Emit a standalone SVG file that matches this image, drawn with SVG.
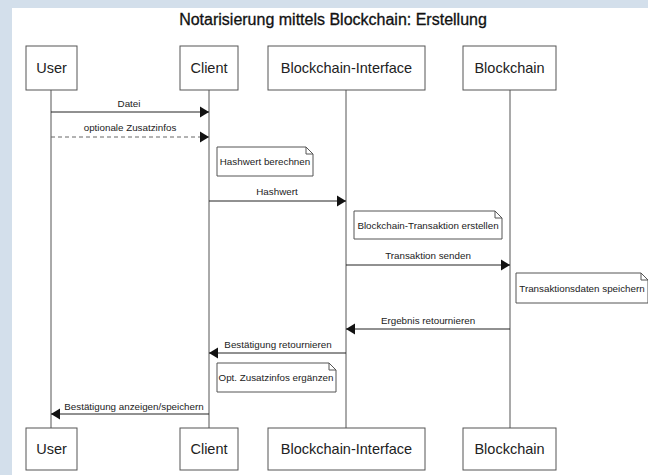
<svg xmlns="http://www.w3.org/2000/svg" width="648" height="475" viewBox="0 0 648 475">
<style>
.box{fill:#fff;stroke:#555;stroke-width:1}
.life{stroke:#555;stroke-width:1;fill:none}
.msg{stroke:#222;stroke-width:1;fill:none}
.dash{stroke-dasharray:4 3;stroke:#666}
.note{fill:#fff;stroke:#555;stroke-width:1}
.nt{font-family:"Liberation Sans",Arial,sans-serif;font-size:14.5px;fill:#222;text-anchor:middle}
.ml{font-family:"Liberation Sans",Arial,sans-serif;font-size:9.8px;fill:#222;text-anchor:middle}
.title{font-family:"Liberation Sans",Arial,sans-serif;font-size:16px;fill:#111;stroke:#111;stroke-width:0.3;text-anchor:middle}
</style>
<defs>
<marker id="ah" viewBox="0 0 10 12" refX="10" refY="6" markerWidth="9" markerHeight="12" markerUnits="userSpaceOnUse" orient="auto">
<path d="M0,0 L10,6 L0,12 Z" fill="#111"/>
</marker>
</defs>
<rect x="0" y="0" width="648" height="475" fill="#d3dfeb"/>
<rect x="12" y="8" width="636" height="467" fill="#fff"/>
<text class="title" x="333" y="25">Notarisierung mittels Blockchain: Erstellung</text>
<g id="lifelines">
<line class="life" x1="51" y1="90" x2="51" y2="428"/>
<line class="life" x1="209" y1="90" x2="209" y2="428"/>
<line class="life" x1="346" y1="90" x2="346" y2="428"/>
<line class="life" x1="510" y1="90" x2="510" y2="428"/>
</g>
<g id="user-top"><rect class="box" x="26" y="46" width="51" height="44"/><text class="nt" x="51.5" y="73">User</text></g>
<g id="client-top"><rect class="box" x="180" y="46" width="58" height="44"/><text class="nt" x="209" y="73">Client</text></g>
<g id="bi-top"><rect class="box" x="268" y="46" width="157" height="44"/><text class="nt" x="346.5" y="73">Blockchain-Interface</text></g>
<g id="bc-top"><rect class="box" x="463" y="46" width="93" height="44"/><text class="nt" x="509.5" y="73">Blockchain</text></g>
<g id="user-bottom"><rect class="box" x="26" y="428" width="51" height="42"/><text class="nt" x="51.5" y="454">User</text></g>
<g id="client-bottom"><rect class="box" x="180" y="428" width="58" height="42"/><text class="nt" x="209" y="454">Client</text></g>
<g id="bi-bottom"><rect class="box" x="268" y="428" width="157" height="42"/><text class="nt" x="346.5" y="454">Blockchain-Interface</text></g>
<g id="bc-bottom"><rect class="box" x="463" y="428" width="93" height="42"/><text class="nt" x="509.5" y="454">Blockchain</text></g>
<g id="connectors">
<line class="msg" x1="51" y1="112" x2="209" y2="112" marker-end="url(#ah)"/>
<line class="msg dash" x1="51" y1="137" x2="209" y2="137" marker-end="url(#ah)"/>
<line class="msg" x1="209" y1="201" x2="346" y2="201" marker-end="url(#ah)"/>
<line class="msg" x1="346" y1="265" x2="510" y2="265" marker-end="url(#ah)"/>
<line class="msg" x1="510" y1="329" x2="346" y2="329" marker-end="url(#ah)"/>
<line class="msg" x1="346" y1="353" x2="209" y2="353" marker-end="url(#ah)"/>
<line class="msg" x1="209" y1="414" x2="51" y2="414" marker-end="url(#ah)"/>
<text class="ml" x="129" y="107">Datei</text>
<text class="ml" x="130" y="131">optionale Zusatzinfos</text>
<text class="ml" x="277" y="195">Hashwert</text>
<text class="ml" x="428" y="259">Transaktion senden</text>
<text class="ml" x="428" y="324">Ergebnis retournieren</text>
<text class="ml" x="278" y="348">Bestätigung retournieren</text>
<text class="ml" x="134" y="410">Bestätigung anzeigen/speichern</text>
</g>
<g id="note-hash"><path class="note" d="M217,147 H306 L313,154 V176 H217 Z M306,147 V154 H313"/><text class="ml" x="265" y="165">Hashwert berechnen</text></g>
<g id="note-tx"><path class="note" d="M354,211 H495 L502,218 V239 H354 Z M495,211 V218 H502"/><text class="ml" x="428" y="229">Blockchain-Transaktion erstellen</text></g>
<g id="note-store"><path class="note" d="M516,273 H641 L648,280 V303 H516 Z M641,273 V280 H648"/><text class="ml" x="582" y="292">Transaktionsdaten speichern</text></g>
<g id="note-opt"><path class="note" d="M217,363 H329 L336,370 V392 H217 Z M329,363 V370 H336"/><text class="ml" x="276" y="381">Opt. Zusatzinfos ergänzen</text></g>
</svg>
